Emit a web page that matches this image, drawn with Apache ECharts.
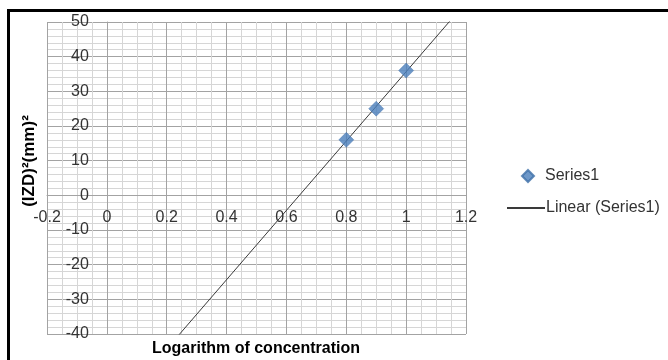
<!DOCTYPE html>
<html>
<head>
<meta charset="utf-8">
<script src="https://cdn.jsdelivr.net/npm/echarts@6/dist/echarts.min.js"></script>
<style>
  html, body { margin: 0; padding: 0; background: #ffffff; }
  #chart { width: 668px; height: 360px; }
</style>
</head>
<body>
<div id="chart"></div>
<script>
// ---- data ----
const xValues = [0.8, 0.9, 1.0];
const yValues = [16, 25, 36];
const seriesName = 'Series1';
const trendName = 'Linear (Series1)';
const xAxisTitle = 'Logarithm of concentration';
const yAxisTitle = '(IZD)\u00B2(mm)\u00B2';
const xRange = [-0.2, 1.2];
const xStep = 0.2;
const yRange = [-40, 50];
const yStep = 10;

// ---- least-squares trendline from the data ----
const n = xValues.length;
const mx = xValues.reduce((a, b) => a + b, 0) / n;
const my = yValues.reduce((a, b) => a + b, 0) / n;
let sxy = 0, sxx = 0;
for (let i = 0; i < n; i++) {
  sxy += (xValues[i] - mx) * (yValues[i] - my);
  sxx += (xValues[i] - mx) * (xValues[i] - mx);
}
const slope = sxy / sxx;
const intercept = my - slope * mx;
const trendData = xRange.map(x => [x, slope * x + intercept]);
const scatterData = xValues.map((x, i) => [x, yValues[i]]);

// ---- layout ----
const W = 668, H = 360;
const G = { left: 47, right: 202, top: 22, bottom: 26 };
const gw = W - G.left - G.right;
const gh = H - G.top - G.bottom;
// axes cross at zero (Excel style): shift axes inward by offset
const yAxisOffset = -gw * (0 - xRange[0]) / (xRange[1] - xRange[0]);
const xAxisOffset = -gh * (0 - yRange[0]) / (yRange[1] - yRange[0]);

const FONT = 'Liberation Sans';
const majorColor = '#a3a3a3';
const minorColor = '#d6d6d6';
const labelColor = '#333333';

const chart = echarts.init(document.getElementById('chart'), null, { renderer: 'canvas' });
chart.setOption({
  animation: false,
  backgroundColor: '#ffffff',
  textStyle: { fontFamily: FONT },
  grid: { left: G.left, right: G.right, top: G.top, bottom: G.bottom, containLabel: false },
  xAxis: {
    type: 'value',
    position: 'bottom',
    offset: xAxisOffset,
    min: xRange[0], max: xRange[1], interval: xStep,
    axisLine: { show: true, onZero: false, lineStyle: { color: majorColor, width: 1 } },
    axisTick: { show: false },
    axisLabel: { color: labelColor, fontSize: 16, fontFamily: FONT, margin: 14, showMinLabel: true, showMaxLabel: true },
    splitLine: { show: true, lineStyle: { color: majorColor, width: 1 } },
    minorTick: { show: false, splitNumber: 4 },
    minorSplitLine: { show: true, lineStyle: { color: minorColor, width: 1 } }
  },
  yAxis: {
    type: 'value',
    position: 'left',
    offset: yAxisOffset,
    min: yRange[0], max: yRange[1], interval: yStep,
    axisLine: { show: true, onZero: false, lineStyle: { color: majorColor, width: 1 } },
    axisTick: { show: false },
    axisLabel: { color: labelColor, fontSize: 16, fontFamily: FONT, margin: 18 },
    splitLine: { show: true, lineStyle: { color: majorColor, width: 1 } },
    minorTick: { show: false, splitNumber: 5 },
    minorSplitLine: { show: true, lineStyle: { color: minorColor, width: 1 } }
  },
  legend: [
    {
      orient: 'vertical', left: 516, top: 163,
      itemWidth: 12, itemHeight: 12,
      data: [{ name: seriesName, icon: 'diamond' }],
      textStyle: { fontSize: 16, color: labelColor, fontFamily: FONT, padding: [0, 0, 0, 6] }
    },
    {
      orient: 'vertical', left: 502, top: 195,
      itemWidth: 38, itemHeight: 2, itemGap: 0,
      data: [{ name: trendName, icon: 'rect' }],
      textStyle: { fontSize: 16, color: labelColor, fontFamily: FONT, padding: [0, 0, 0, -4] }
    }
  ],
  series: [
    {
      name: trendName,
      type: 'line',
      data: trendData,
      showSymbol: false,
      symbol: 'none',
      clip: true,
      z: 3,
      lineStyle: { color: '#3a3a3a', width: 1 },
      itemStyle: { color: '#3a3a3a' }
    },
    {
      name: seriesName,
      type: 'scatter',
      data: scatterData,
      symbol: 'diamond',
      symbolSize: [15, 15],
      z: 4,
      itemStyle: { color: '#4a7ebb', borderColor: '#3f6fa8', borderWidth: 0.5 }
    }
  ],
  graphic: [
    { type: 'line', shape: { x1: 7, y1: 10.5, x2: 668, y2: 10.5 }, style: { stroke: '#000000', lineWidth: 3 }, silent: true },
    { type: 'line', shape: { x1: 8.5, y1: 9, x2: 8.5, y2: 360 }, style: { stroke: '#000000', lineWidth: 3 }, silent: true },
    {
      type: 'text', x: 256, y: 349,
      style: { text: xAxisTitle, font: 'bold 16px "Liberation Sans"', fill: '#000000', textAlign: 'center', textVerticalAlign: 'middle' }
    },
    {
      type: 'text', x: 29, y: 161, rotation: Math.PI / 2,
      style: { text: yAxisTitle, font: 'bold 17px "Liberation Sans"', fill: '#000000', textAlign: 'center', textVerticalAlign: 'middle' }
    }
  ]
});
</script>
</body>
</html>
